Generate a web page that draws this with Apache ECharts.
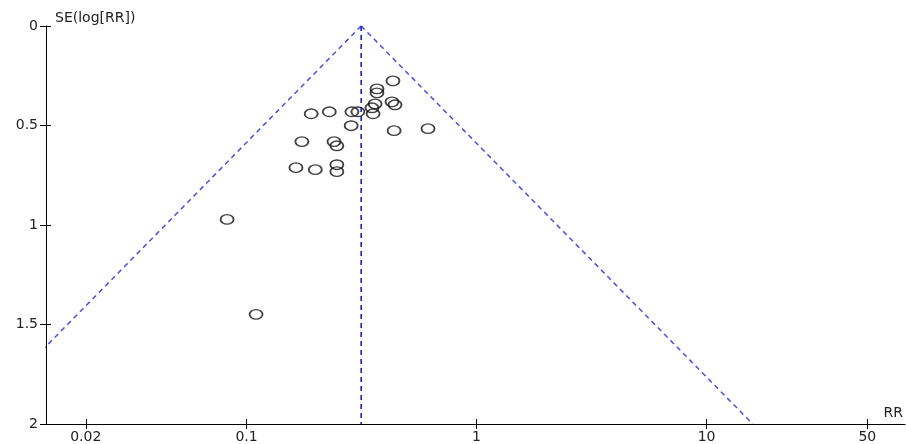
<!DOCTYPE html>
<html>
<head>
<meta charset="utf-8">
<script src="https://cdn.jsdelivr.net/npm/echarts@6/dist/echarts.min.js"></script>
<style>html,body{margin:0;padding:0;background:#fff}#c{width:906px;height:444px}</style>
</head>
<body>
<div id="c"></div>
<script>
// Study estimates: relative risk and standard error of log(RR)
const rr = [0.433, 0.369, 0.369, 0.429, 0.442, 0.362, 0.351, 0.355, 0.305, 0.287,
            0.229, 0.191, 0.285, 0.615, 0.438, 0.174, 0.240, 0.247, 0.247, 0.247,
            0.164, 0.199, 0.0823, 0.110];
const se = [0.276, 0.316, 0.336, 0.381, 0.396, 0.391, 0.411, 0.441, 0.431, 0.431,
            0.431, 0.441, 0.501, 0.516, 0.526, 0.581, 0.581, 0.602, 0.697, 0.732,
            0.712, 0.722, 0.972, 1.449];
const pooledRR = 0.315;
const z = 1.96;
const xTickLabels = ['0.02', '0.1', '1', '10', '50'];
const yTickValues = [0, 0.5, 1, 1.5, 2];
const xMinRR = 0.01343, xMaxRR = 72.9;

const xTickVals = xTickLabels.map(v => Math.log10(parseFloat(v)));
const points = rr.map((r, i) => [Math.log10(r), se[i]]);
const lp = Math.log10(pooledRR);
const seMax = yTickValues[yTickValues.length - 1];
const half = z * seMax / Math.LN10;
const leftLine = [[lp, 0], [lp - half, seMax]];
const rightLine = [[lp, 0], [lp + half, seMax]];
const centerLine = [[lp, 0], [lp, seMax]];

const font = '"DejaVu Sans", Verdana, sans-serif';
const chart = echarts.init(document.getElementById('c'));
const xBase = {
  type: 'value', min: Math.log10(xMinRR), max: Math.log10(xMaxRR),
  splitLine: {show: false}
};
const yBase = {type: 'value', min: 0, max: seMax, interval: 0.5, inverse: true, splitLine: {show: false}};
chart.setOption({
  animation: false,
  grid: {left: 46, right: 1, top: 26, bottom: 19, containLabel: false},
  xAxis: [
    Object.assign({}, xBase, {
      position: 'bottom',
      name: 'RR', nameLocation: 'end', nameGap: 0,
      nameTextStyle: {fontFamily: font, fontSize: 14, color: '#222', align: 'right', verticalAlign: 'bottom', padding: [0, 2, 4, 0]},
      axisLine: {show: true, onZero: false, lineStyle: {color: '#000', width: 1}},
      axisTick: {show: true, inside: false, length: 5, customValues: xTickVals, lineStyle: {color: '#000'}},
      axisLabel: {show: true, customValues: xTickVals, margin: 6, fontFamily: font, fontSize: 14, color: '#222',
        formatter: v => { let k = 0, d = 1e9; xTickVals.forEach((t, i) => { if (Math.abs(t - v) < d) { d = Math.abs(t - v); k = i; } }); return xTickLabels[k]; }}
    }),
    Object.assign({}, xBase, {
      position: 'bottom',
      axisLine: {show: false, onZero: false},
      axisTick: {show: true, inside: true, length: 5, customValues: xTickVals, lineStyle: {color: '#000'}},
      axisLabel: {show: false}
    })
  ],
  yAxis: [
    Object.assign({}, yBase, {
      position: 'left',
      name: 'SE(log[RR])', nameLocation: 'start', nameGap: 8,
      nameTextStyle: {fontFamily: font, fontSize: 14, color: '#222', align: 'left', verticalAlign: 'middle', padding: [0, 0, 0, 9]},
      axisLine: {show: true, onZero: false, lineStyle: {color: '#000', width: 1}},
      axisTick: {show: true, inside: false, length: 6, lineStyle: {color: '#000'}},
      axisLabel: {show: true, margin: 8, fontFamily: font, fontSize: 14, color: '#222',
        formatter: v => String(v)}
    }),
    Object.assign({}, yBase, {
      position: 'left',
      axisLine: {show: false, onZero: false},
      axisTick: {show: true, inside: true, length: 5, lineStyle: {color: '#000'}},
      axisLabel: {show: false}
    })
  ],
  series: [
    {type: 'line', data: leftLine, symbol: 'none', clip: true, silent: true,
     lineStyle: {color: '#4d4de6', width: 1.5, type: [5, 4]}},
    {type: 'line', data: rightLine, symbol: 'none', clip: true, silent: true,
     lineStyle: {color: '#4d4de6', width: 1.5, type: [5, 4]}},
    {type: 'line', data: centerLine, symbol: 'none', clip: true, silent: true,
     lineStyle: {color: '#1010b8', width: 1.5, type: [5, 4]}},
    {type: 'scatter', data: points, symbol: 'circle', symbolSize: [13, 9.5],
     itemStyle: {color: 'rgba(0,0,0,0)', borderColor: '#111', borderWidth: 1.6}}
  ]
});
</script>
</body>
</html>
